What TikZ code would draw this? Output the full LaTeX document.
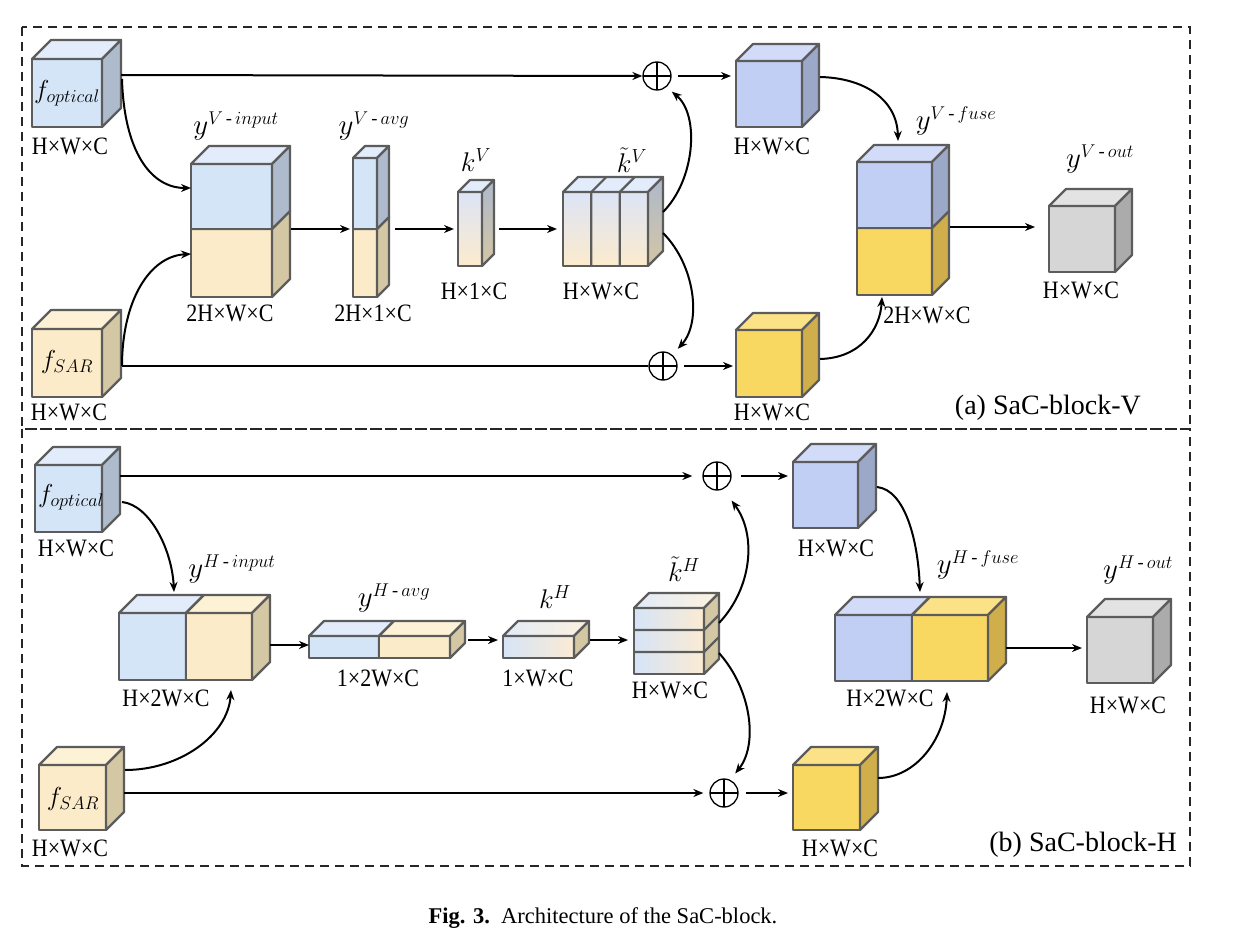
\RequirePackage{fix-cm}
\documentclass[tikz,border=0pt]{standalone}
\usepackage{amsmath}
\usepackage{fontspec}
\setmainfont{Liberation Serif}
\newfontfamily\dimfont{Liberation Serif}[FakeStretch=0.88]
\DeclareMathSizes{29}{29}{18.5}{13}
\usetikzlibrary{calc,arrows.meta}

\definecolor{bluF}{HTML}{D5E5F8}\definecolor{bluT}{HTML}{E2ECFA}\definecolor{bluS}{HTML}{AEBBCC}
\definecolor{creF}{HTML}{FCEBC9}\definecolor{creT}{HTML}{FDF1D6}\definecolor{creS}{HTML}{D4C7A4}
\definecolor{perF}{HTML}{C2CFF5}\definecolor{perT}{HTML}{D2DCF8}\definecolor{perS}{HTML}{9CA8C8}
\definecolor{yelF}{HTML}{F9D862}\definecolor{yelT}{HTML}{FBE286}\definecolor{yelS}{HTML}{CFAE4B}
\definecolor{gryF}{HTML}{D6D6D6}\definecolor{gryT}{HTML}{E3E3E3}\definecolor{gryS}{HTML}{ABABAB}
\definecolor{edge}{HTML}{5C5C5C}
\definecolor{gvT}{HTML}{DCE4F6}\definecolor{gvB}{HTML}{FCEBCD}
\definecolor{gvST}{HTML}{AEB9CC}\definecolor{gvSB}{HTML}{D4C6A4}
\definecolor{ghL}{HTML}{D6E4F8}\definecolor{ghR}{HTML}{FBEBD3}
\definecolor{ghTL}{HTML}{E2EBF9}\definecolor{ghTR}{HTML}{FCF1DE}

\tikzset{
 cubeline/.style={draw=edge, line width=2.2pt, line join=round},
 cubefront/.style={cubeline, inner sep=0pt, outer sep=0pt, anchor=north west},
 dimlab/.style={font=\dimfont\fontsize{25}{27}\selectfont, inner sep=0pt},
 mathlab/.style={font=\fontsize{29}{31}\selectfont, inner sep=0pt},
 klab/.style={font=\fontsize{27}{29}\selectfont, inner sep=0pt},
 flab/.style={font=\fontsize{26}{28}\selectfont, inner sep=0pt},
 arr/.style={line width=2pt, -{Stealth[length=10pt,width=8pt]}},
 plainline/.style={line width=2pt},
 oplus/.style={circle, draw, line width=1.3pt, minimum size=28pt, inner sep=0pt,
   path picture={\draw[line width=1.3pt] (path picture bounding box.north) -- (path picture bounding box.south)
     (path picture bounding box.west) -- (path picture bounding box.east);}},
 frame/.style={dash pattern=on 9pt off 6pt, line width=1.7pt, draw=black!85},
}

% name, x, y, w, h, d, colour prefix
\newcommand\mycube[7]{%
 \node[cubefront, fill=#7F, minimum width=#4pt, minimum height=#5pt] (#1) at (#2,#3) {};
 \draw[cubeline, fill=#7T] (#1.north west) -- ++(#6,-#6) -- ++(#4,0) -- (#1.north east) -- cycle;
 \draw[cubeline, fill=#7S] (#1.north east) -- ++(#6,-#6) -- ++(0,#5) -- (#1.south east) -- cycle;
}

\begin{document}
\begin{tikzpicture}[x=1pt,y=-1pt]
\useasboundingbox (0,0) rectangle (1238,933);
\fill[white] (0,0) rectangle (1238,933);

% frames
\draw[frame] (22,27) rectangle (1190,429);
\draw[frame] (22,429) rectangle (1190,866);

% ================= (a) SaC-block-V =================
\mycube{fo}{32}{59}{70}{68}{19}{blu}
\node[flab] (fo-t) at (67,93) {$f_{optical}$};
\node[dimlab] (fo-d) at (70,146) {H×W×C};

\mycube{fs}{32}{329}{70}{68}{19}{cre}
\node[flab] (fs-t) at (67,362) {$f_{SAR}$};
\node[dimlab] (fs-d) at (69,412) {H×W×C};

\mycube{vinB}{191}{229}{81}{68}{18}{cre}
\mycube{vinA}{191}{164}{81}{65}{18}{blu}
\node[dimlab] (vin-d) at (230,313) {2H×W×C};
\node[mathlab] (vin-t) at (236,126) {$y^{V\,\text{-}\,input}$};

\mycube{vavB}{353}{229}{24}{68}{12}{cre}
\mycube{vavA}{353}{158}{24}{71}{12}{blu}
\node[dimlab] (vav-d) at (373,313) {2H×1×C};
\node[mathlab] (vav-t) at (374,126) {$y^{V\,\text{-}\,avg}$};

% k^V
\node[cubefront, minimum width=24pt, minimum height=74pt, top color=gvT, bottom color=gvB] (kV) at (458,192) {};
\draw[cubeline, fill=bluT] (kV.north west) -- ++(12,-12) -- ++(24,0) -- (kV.north east) -- cycle;
\draw[cubeline, top color=gvST, bottom color=gvSB] (kV.north east) -- ++(12,-12) -- ++(0,74) -- (kV.south east) -- cycle;
\node[dimlab] (kV-d) at (474,291) {H×1×C};
\node[klab] (kV-t) at (476,160) {$k^{V}$};

% tilde k^V
\node[cubefront, minimum width=85pt, minimum height=74pt, top color=gvT, bottom color=gvB] (ktV) at (563,192) {};
\draw[cubeline, fill=bluT] (ktV.north west) -- ++(15,-15) -- ++(85,0) -- (ktV.north east) -- cycle;
\draw[cubeline, top color=gvST, bottom color=gvSB] (ktV.north east) -- ++(15,-15) -- ++(0,74) -- (ktV.south east) -- cycle;
\draw[cubeline] ($(ktV.north west)+(28.3,0)$) -- ++(0,74) ($(ktV.north west)+(28.3,0)$) -- ++(15,-15)
                ($(ktV.north west)+(56.7,0)$) -- ++(0,74) ($(ktV.north west)+(56.7,0)$) -- ++(15,-15);
\node[dimlab] (ktV-d) at (601,291) {H×W×C};
\node[klab] (ktV-t) at (632,160) {$\tilde{k}^{V}$};

\node[oplus] (opT) at (657,76) {};
\node[oplus] (opB) at (663,366) {};

\mycube{pbT}{736}{61}{66}{66}{17}{per}
\node[dimlab] (pbT-d) at (772,146) {H×W×C};
\mycube{pyB}{736}{330}{66}{67}{17}{yel}
\node[dimlab] (pyB-d) at (772,412) {H×W×C};

\mycube{fuB}{857}{228}{75}{67}{17}{yel}
\mycube{fuA}{857}{162}{75}{66}{17}{per}
\node[dimlab] (fu-d) at (927,315) {2H×W×C};
\node[mathlab] (fu-t) at (956,121) {$y^{V\,\text{-}\,fuse}$};

\mycube{vout}{1049}{206}{66}{66}{17}{gry}
\node[dimlab] (vout-d) at (1081,290) {H×W×C};
\node[mathlab] (vout-t) at (1100,159) {$y^{V\,\text{-}\,out}$};

\node[font=\fontsize{28}{30}\selectfont, inner sep=0pt, anchor=east] (capA) at (1141,408) {(a) SaC-block-V};

% arrows (a)
\draw[arr] ($(fo.north east)+(19,16)$) -- (opT.west);
\draw[arr] ($(fo.north east)+(20,20)$) .. controls (124,150) and (150,188) .. ($(vinA.north west)+(0,24)$);
\draw[plainline] ($(fs.north east)+(20,37)$) -- (opB.west);
\draw[arr] ($(fs.north east)+(20,37)$) .. controls (122,300) and (150,256) .. ($(vinB.north west)+(0,25)$);
\draw[arr, shorten >=3pt] ($(vinB.north east)+(19,0)$) -- (vavB.north west);
\draw[arr, shorten >=4pt] ($(vavB.north east)+(18,0)$) -- ($(kV.north west)+(0,37)$);
\draw[arr, shorten >=6pt] ($(kV.north east)+(17,37)$) -- ($(ktV.north west)+(0,37)$);
\draw[arr, shorten >=7pt] ($(ktV.north east)+(15,20)$) .. controls (695,180) and (700,115) .. (opT.-50);
\draw[arr, shorten >=8pt] ($(ktV.north east)+(15,41)$) .. controls (695,265) and (702,322) .. (opB.50);
\draw[arr, shorten <=6pt, shorten >=5pt] (opT.east) -- ($(pbT.north west)+(0,15)$);
\draw[arr, shorten <=6pt, shorten >=3pt] (opB.east) -- ($(pyB.north west)+(0,36)$);
\draw[arr] ($(pbT.north east)+(18,16)$) .. controls (865,78) and (897,100) .. ($(fuA.north west)+(41,-21)$);
\draw[arr] ($(pyB.north east)+(18,29)$) .. controls (860,358) and (880,330) .. ($(fuB.south west)+(25,2)$);
\draw[arr, shorten >=14pt] ($(fuB.north east)+(18,-1)$) -- ($(vout.north west)+(0,21)$);

% ================= (b) SaC-block-H =================
\mycube{fo2}{35}{465}{67}{67}{18}{blu}
\node[flab] (fo2-t) at (71,497) {$f_{optical}$};
\node[dimlab] (fo2-d) at (76,548) {H×W×C};

\mycube{fs2}{39}{765}{67}{65}{18}{cre}
\node[flab] (fs2-t) at (73,799) {$f_{SAR}$};
\node[dimlab] (fs2-d) at (70,848) {H×W×C};

\mycube{vhA}{119}{613}{67}{67}{18}{blu}
\mycube{vhB}{186}{613}{66}{67}{18}{cre}
\node[dimlab] (vh-d) at (166,698) {H×2W×C};
\node[mathlab] (vh-t) at (232,569) {$y^{H\,\text{-}\,input}$};

\mycube{hA}{309}{636}{70}{22}{15}{blu}
\mycube{hB}{379}{636}{71}{22}{15}{cre}
\node[dimlab] (h-d) at (378,678) {1×2W×C};
\node[mathlab] (h-t) at (394,598) {$y^{H\,\text{-}\,avg}$};

% k^H
\node[cubefront, minimum width=71pt, minimum height=22pt, left color=ghL, right color=ghR] (kH) at (503,636) {};
\draw[cubeline, left color=ghTL, right color=ghTR] (kH.north west) -- ++(15,-15) -- ++(71,0) -- (kH.north east) -- cycle;
\draw[cubeline, fill=creS] (kH.north east) -- ++(15,-15) -- ++(0,22) -- (kH.south east) -- cycle;
\node[dimlab] (kH-d) at (538,678) {1×W×C};
\node[klab] (kH-t) at (555,597) {$k^{H}$};

% tilde k^H
\node[cubefront, minimum width=70pt, minimum height=66pt, left color=ghL, right color=ghR] (ktH) at (634,608) {};
\draw[cubeline, left color=ghTL, right color=ghTR] (ktH.north west) -- ++(15,-15) -- ++(70,0) -- (ktH.north east) -- cycle;
\draw[cubeline, fill=creS] (ktH.north east) -- ++(15,-15) -- ++(0,66) -- (ktH.south east) -- cycle;
\draw[cubeline] ($(ktH.north west)+(0,22)$) -- ++(70,0) -- ++(15,-15)
                ($(ktH.north west)+(0,44)$) -- ++(70,0) -- ++(15,-15);
\node[dimlab] (ktH-d) at (670,690) {H×W×C};
\node[klab] (ktH-t) at (684,569) {$\tilde{k}^{H}$};

\node[oplus] (opT2) at (717,476) {};
\node[oplus] (opB2) at (724,793) {};

\mycube{pb2}{793}{462}{65}{66}{18}{per}
\node[dimlab] (pb2-d) at (836,548) {H×W×C};
\mycube{py2}{793}{765}{67}{65}{18}{yel}
\node[dimlab] (py2-d) at (840,848) {H×W×C};

\mycube{fhA}{835}{615}{77}{66}{18}{per}
\mycube{fhB}{912}{615}{76}{66}{18}{yel}
\node[dimlab] (fh-d) at (890,698) {H×2W×C};
\node[mathlab] (fh-t) at (978,565) {$y^{H\,\text{-}\,fuse}$};

\mycube{hout}{1087}{617}{66}{66}{18}{gry}
\node[dimlab] (hout-d) at (1128,705) {H×W×C};
\node[mathlab] (hout-t) at (1138,570) {$y^{H\,\text{-}\,out}$};

\node[font=\fontsize{28}{30}\selectfont, inner sep=0pt, anchor=east] (capB) at (1177,845) {(b) SaC-block-H};

% arrows (b)
\draw[arr, shorten >=10pt] ($(fo2.north east)+(18,11)$) -- (opT2.west);
\draw[arr] ($(fo2.north east)+(20,37)$) .. controls (150,505) and (172,550) .. ($(vhA.north west)+(55,-21)$);
\draw[arr] ($(fs2.north east)+(19,5)$) .. controls (180,770) and (228,735) .. ($(vhB.south west)+(45,10)$);
\draw[arr, shorten >=6pt] ($(fs2.north east)+(18,28)$) -- (opB2.west);
\draw[arr] ($(vhB.north east)+(18,32)$) -- ($(hA.north west)+(0,9)$);
\draw[arr, shorten >=5pt] ($(hB.north east)+(18,4)$) -- ($(kH.north west)+(0,4)$);
\draw[arr, shorten >=6pt] ($(kH.north east)+(16,4)$) -- ($(ktH.north west)+(0,32)$);
\draw[arr, shorten >=14pt] ($(ktH.north east)+(15,15)$) .. controls (752,588) and (757,535) .. (opT2.-65);
\draw[arr, shorten >=8pt] ($(ktH.north east)+(15,45)$) .. controls (752,690) and (758,745) .. (opB2.65);
\draw[arr, shorten <=9pt, shorten >=5pt] (opT2.east) -- ($(pb2.north west)+(0,14)$);
\draw[arr, shorten <=7pt, shorten >=5pt] (opB2.east) -- ($(py2.north west)+(0,28)$);
\draw[arr] ($(pb2.north east)+(19,25)$) .. controls (905,490) and (918,540) .. ($(fhA.north west)+(85,-23)$);
\draw[arr] ($(py2.north east)+(18,13)$) .. controls (915,778) and (945,740) .. ($(fhB.south west)+(35,11)$);
\draw[arr, shorten >=5pt] ($(fhB.north east)+(18,33)$) -- ($(hout.north west)+(0,31)$);

% caption
\node[font=\fontsize{22.5}{26}\selectfont, inner sep=0pt] (cap) at (603,918) {\textbf{Fig. 3.}\enspace Architecture of the SaC-block.};
\end{tikzpicture}
\end{document}
